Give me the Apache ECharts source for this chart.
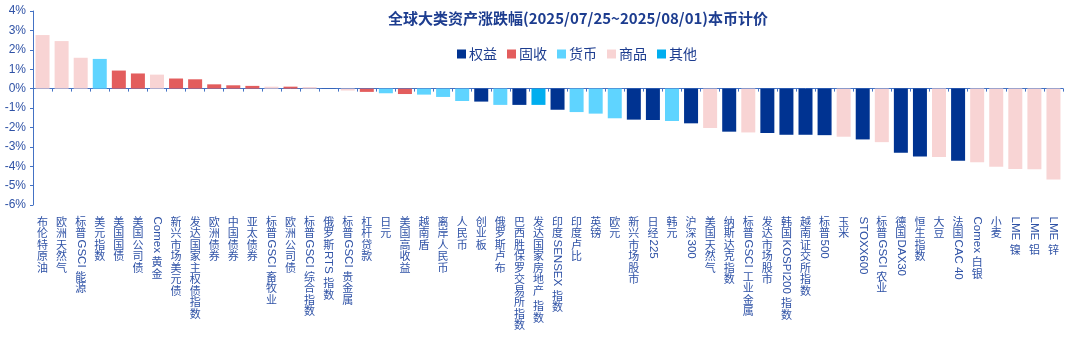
<!DOCTYPE html>
<html>
<head>
<meta charset="utf-8">
<script src="https://cdn.jsdelivr.net/npm/echarts@6/dist/echarts.min.js"></script>
<style>
html,body{margin:0;padding:0;background:#fff;}
#chart{width:1080px;height:339px;}
</style>
</head>
<body>
<div id="chart"></div>
<script>
const titleText = '全球大类资产涨跌幅(2025/07/25~2025/08/01)本币计价';
const groups = ['权益', '固收', '货币', '商品', '其他'];
const groupColors = ['#003391', '#E35D5D', '#5FD4FF', '#F8D4D4', '#00AEEF'];

const categories = [
  '布伦特原油', '欧洲天然气', '标普GSCI 能源', '美元指数', '美国国债', '美国公司债', 'Comex 黄金',
  '新兴市场美元债', '发达国家主权债指数', '欧洲债券', '中国债券', '亚太债券', '标普GSCI 畜牧业',
  '欧洲公司债', '标普GSCI 综合指数', '俄罗斯RTS 指数', '标普GSCI 贵金属', '杠杆贷款', '日元',
  '美国高收益', '越南盾', '离岸人民币', '人民币', '创业板', '俄罗斯卢布', '巴西胜保罗交易所指数',
  '发达国家房地产 指数', '印度SENSEX 指数', '印度卢比', '英镑', '欧元', '新兴市场股市', '日经225',
  '韩元', '沪深300', '美国天然气', '纳斯达克指数', '标普GSCI 工业金属', '发达市场股市',
  '韩国KOSPI200 指数', '越南证交所指数', '标普500', '玉米', 'STOXX600', '标普GSCI 农业',
  '德国DAX30', '恒生指数', '大豆', '法国CAC 40', 'Comex 白银', '小麦', 'LME 镍', 'LME 铝', 'LME 锌'
];

const categoryGroups = [
  '商品', '商品', '商品', '货币', '固收', '固收', '商品',
  '固收', '固收', '固收', '固收', '固收', '商品',
  '固收', '商品', '权益', '商品', '固收', '货币',
  '固收', '货币', '货币', '货币', '权益', '货币', '权益',
  '其他', '权益', '货币', '货币', '货币', '权益', '权益',
  '货币', '权益', '商品', '权益', '商品', '权益',
  '权益', '权益', '权益', '商品', '权益', '商品',
  '权益', '权益', '商品', '权益', '商品', '商品', '商品', '商品', '商品'
];

const values = [
  2.76, 2.45, 1.59, 1.53, 0.93, 0.78, 0.72,
  0.52, 0.48, 0.22, 0.17, 0.14, 0.10,
  0.10, 0.08, 0.01, -0.10, -0.17, -0.24,
  -0.28, -0.31, -0.43, -0.64, -0.67, -0.84, -0.84,
  -0.84, -1.09, -1.21, -1.29, -1.53, -1.60, -1.62,
  -1.67, -1.79, -2.03, -2.22, -2.26, -2.29,
  -2.38, -2.38, -2.40, -2.48, -2.62, -2.76,
  -3.31, -3.50, -3.52, -3.72, -3.79, -4.03, -4.14, -4.16, -4.69
];

const yMin = -6, yMax = 4, yStep = 1;

const chart = echarts.init(document.getElementById('chart'), null, {renderer: 'canvas'});

const axisBlue = '#4472C4';
const labelBlue = '#2F52A6';
const CJK_FONT = '11px "Noto Sans CJK SC", sans-serif';
const LAT_FONT = '11.5px "Liberation Sans", Arial, sans-serif';
const CJK_STEP = 11.5;

const mctx = document.createElement('canvas').getContext('2d');
function measure(t) { mctx.font = LAT_FONT; return mctx.measureText(t).width; }
function isCJK(ch) { return /[\u3000-\u9fff\uff00-\uffef]/.test(ch); }
function segments(s) {
  const segs = [];
  let run = '';
  for (const ch of s) {
    if (isCJK(ch)) {
      if (run) { segs.push({t: run, cjk: false}); run = ''; }
      segs.push({t: ch, cjk: true});
    } else run += ch;
  }
  if (run) segs.push({t: run, cjk: false});
  return segs;
}

const barSeries = groups.map((g, gi) => ({
  name: g,
  type: 'bar',
  barWidth: 14,
  barGap: '-100%',
  itemStyle: {color: groupColors[gi]},
  data: values.map((v, i) => categoryGroups[i] === g ? v : '-'),
  z: 2
}));

const labelSeries = {
  type: 'custom',
  name: 'labels',
  silent: true,
  clip: false,
  z: 5,
  encode: {x: 0, y: 1},
  data: categories.map((c, i) => [i, yMin]),
  renderItem: function (params, api) {
    const idx = api.value(0);
    const pt = api.coord([idx, yMin]);
    const x = pt[0];
    let y = pt[1] + 11;
    const children = [];
    segments(categories[idx]).forEach(seg => {
      if (seg.cjk) {
        children.push({
          type: 'text', x: x, y: y,
          style: {text: seg.t, font: CJK_FONT, fill: labelBlue, align: 'center', verticalAlign: 'top', textAlign: 'center', textVerticalAlign: 'top'}
        });
        y += CJK_STEP;
      } else {
        const w = measure(seg.t);
        children.push({
          type: 'text', x: x, y: y + 0.5, rotation: -Math.PI / 2,
          style: {text: seg.t, font: LAT_FONT, fill: labelBlue, align: 'left', verticalAlign: 'middle', textAlign: 'left', textVerticalAlign: 'middle'}
        });
        y += w + 1;
      }
    });
    return {type: 'group', children: children};
  }
};

chart.setOption({
  backgroundColor: '#ffffff',
  animation: false,
  title: {
    text: titleText,
    left: 383,
    top: 6,
    textStyle: {fontFamily: '"Noto Sans CJK SC", sans-serif', fontSize: 15, fontWeight: 'bold', color: '#1C3C8F'}
  },
  legend: {
    data: groups,
    left: 452,
    top: 42,
    itemWidth: 9,
    itemHeight: 9,
    itemGap: 10,
    icon: 'rect',
    textStyle: {fontFamily: '"Noto Sans CJK SC", sans-serif', fontSize: 14, color: '#1C3C8F', padding: [0, 0, 0, -2]}
  },
  grid: {left: 33, right: 17, top: 11, bottom: 134, containLabel: false},
  xAxis: {
    type: 'category',
    data: categories,
    axisLine: {onZero: true, lineStyle: {color: axisBlue, width: 1}},
    axisTick: {show: true, interval: 0, length: 3, lineStyle: {color: axisBlue}},
    axisLabel: {show: false},
    splitLine: {show: false}
  },
  yAxis: {
    type: 'value',
    min: yMin, max: yMax, interval: yStep,
    axisLine: {show: true, lineStyle: {color: axisBlue}},
    axisTick: {show: true, length: 3, lineStyle: {color: axisBlue}},
    axisLabel: {formatter: '{value}%', fontSize: 12, color: labelBlue, margin: 7, fontFamily: '"Liberation Sans", Arial, sans-serif'},
    splitLine: {show: false}
  },
  series: barSeries.concat([labelSeries])
});
</script>
</body>
</html>
